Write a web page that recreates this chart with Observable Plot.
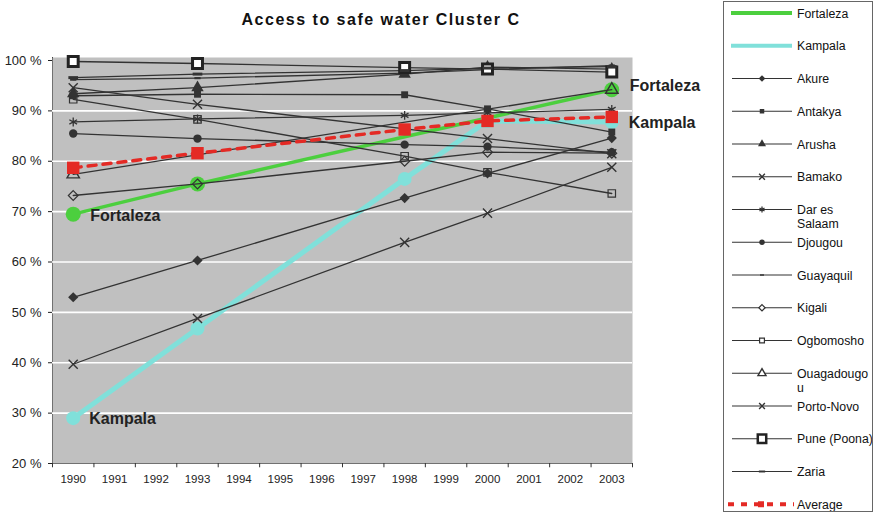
<!DOCTYPE html>
<html>
<head>
<meta charset="utf-8">
<script src="https://cdn.jsdelivr.net/npm/d3@7"></script>
<script src="https://cdn.jsdelivr.net/npm/@observablehq/plot@0.6"></script>
<style>
  body { margin: 0; background: #fff; font-family: "Liberation Sans", Arial, sans-serif; }
  #page { position: relative; width: 874px; height: 514px; overflow: hidden; }
  #title { position: absolute; left: 0; top: 0; width: 762px; height: 40px; line-height: 40px;
           text-align: center; font-weight: bold; font-size: 16px; color: #111; letter-spacing: 1.5px; }
  #chart { position: absolute; left: 0; top: 40px; }
  #chart svg g[aria-label^="y-axis"] text { font-size: 13px !important; }
  #chart svg g[aria-label^="x-axis"] text { font-size: 11.5px !important; }
  #legend { position: absolute; left: 723px; top: 1px; width: 150px; height: 511px;
            border: 1px solid #666; box-sizing: border-box; }
</style>
</head>
<body>
<div id="page">
  <div id="title">Access to safe water Cluster C</div>
  <div id="chart"></div>
  <div id="legend"></div>
</div>
<script>
// Survey years and share of population with access to safe water (%)
const years = [1990, 1993, 1998, 2000, 2003];

const fortaleza   = [69.5, 75.5, null, null, 94.2];
const kampala     = [29.0, 46.8, 76.5, 88.0, 87.8];
const akure       = [53.0, 60.3, 72.7, 77.6, 84.6];
const antakya     = [93.0, 93.3, 93.2, 90.4, 85.8];
const arusha      = [93.4, 94.6, 97.3, 98.7, 98.3];
const bamako      = [94.6, 91.3, null, 84.5, 81.5];
const darEsSalaam = [87.8, 88.4, 89.1, 89.6, 90.3];
const djougou     = [85.5, 84.5, 83.3, 82.9, 81.8];
const guayaquil   = [96.2, 96.5, 97.5, 98.2, 99.0];
const kigali      = [73.2, 75.5, 80.0, 81.8, 81.6];
const ogbomosho   = [92.3, 88.3, 81.0, 77.8, 73.6];
const ouagadougou = [77.4, null, null, null, 94.2];
const portoNovo   = [39.7, 48.8, 63.9, 69.7, 78.8];
const pune        = [99.8, 99.4, 98.6, 98.3, 97.7];
const zaria       = [96.6, 97.3, 98.0, 98.5, 98.8];
const average     = [78.7, 81.6, 86.3, 88.0, 88.8];

// Axis ticks
const yTicks = [20, 30, 40, 50, 60, 70, 80, 90, 100];
const xTicks = d3.range(1990, 2004);

const cityNames = ["Fortaleza", "Kampala", "Akure", "Antakya", "Arusha", "Bamako", "Dar es Salaam",
  "Djougou", "Guayaquil", "Kigali", "Ogbomosho", "Ouagadougou", "Porto-Novo", "Pune (Poona)", "Zaria"];
const cityValues = [fortaleza, kampala, akure, antakya, arusha, bamako, darEsSalaam,
  djougou, guayaquil, kigali, ogbomosho, ouagadougou, portoNovo, pune, zaria];

// Long table: one row per city and year (missing years are skipped so lines join)
const rows = cityNames.flatMap((city, k) =>
  years.map((year, i) => ({city, year, value: cityValues[k][i]})).filter(d => d.value != null));
const avgRows = years.map((year, i) => ({city: "Average", year, value: average[i]}));

// Custom dash marker (Excel-style short bar)
const dash = (w, h) => ({
  draw(ctx, size) {
    const s = Math.sqrt(size);
    ctx.rect(-s * w / 2, -s * h / 2, s * w, s * h);
  }
});

const INK = "#333";
const GREEN = "#4ccf3e";
const CYAN = "#80e0da";
const RED = "#e42a25";

// Marker style for each grey series
const markerStyle = {
  "Akure":         {symbol: "diamond2", r: 4.6, fill: INK, stroke: "none"},
  "Antakya":       {symbol: "square", r: 3.9, fill: INK, stroke: "none"},
  "Arusha":        {symbol: "triangle", r: 4.6, fill: INK, stroke: "none"},
  "Bamako":        {symbol: "times", r: 4.2, fill: "none", stroke: INK, strokeWidth: 1.4},
  "Dar es Salaam": {symbol: "asterisk", r: 4.2, fill: "none", stroke: INK, strokeWidth: 1.3},
  "Djougou":       {symbol: "circle", r: 4.2, fill: INK, stroke: "none"},
  "Guayaquil":     {symbol: dash(1.0, 0.35), r: 3.5, fill: INK, stroke: "none"},
  "Kigali":        {symbol: "diamond2", r: 4.4, fill: "none", stroke: INK, strokeWidth: 1.2},
  "Ogbomosho":     {symbol: "square", r: 4.2, fill: "none", stroke: INK, strokeWidth: 1.2},
  "Ouagadougou":   {symbol: "triangle", r: 4.6, fill: "none", stroke: INK, strokeWidth: 1.4},
  "Porto-Novo":    {symbol: "times", r: 4.2, fill: "none", stroke: INK, strokeWidth: 1.4},
  "Pune (Poona)":  {symbol: "square", r: 5.6, fill: "#fff", stroke: "#222", strokeWidth: 3},
  "Zaria":         {symbol: dash(1.3, 0.4), r: 4.2, fill: INK, stroke: "none"}
};
const greyCities = Object.keys(markerStyle);

const greyLines = greyCities.map(city =>
  Plot.line(rows.filter(d => d.city === city), {x: "year", y: "value", stroke: INK, strokeWidth: 1.3}));
const greyDots = greyCities.map(city =>
  Plot.dot(rows.filter(d => d.city === city), {x: "year", y: "value", ...markerStyle[city]}));

const fortRows = rows.filter(d => d.city === "Fortaleza");
const kampRows = rows.filter(d => d.city === "Kampala");

// City names written next to the first and last points of the highlighted series
const directLabel = (year, value, text, dx, dy) =>
  Plot.text([{year, value, text}], {x: "year", y: "value", text: "text", dx, dy,
    textAnchor: "start", fontWeight: "bold", fontSize: 16, fill: "#222"});

const chart = Plot.plot({
  width: 723,
  height: 474,
  marginLeft: 52,
  marginRight: 91,
  marginTop: 17,
  marginBottom: 51,
  style: {fontFamily: "'Liberation Sans', Arial, sans-serif", fontSize: "12px", color: "#222", background: "transparent", overflow: "visible"},
  x: {domain: [1989.5, 2003.5], ticks: xTicks, tickFormat: d => String(d), tickSize: 0, tickPadding: 11, label: null, line: true},
  y: {domain: [20, 100], range: [423, 20], ticks: yTicks, tickFormat: d => d + " %", tickSize: 4, tickPadding: 7, label: null, line: true},
  marks: [
    Plot.frame({fill: "#c0c0c0", stroke: null}),
    Plot.ruleY(yTicks.slice(1, -1), {stroke: "#fff", strokeWidth: 1.6}),
    // category boundary ticks on the x axis
    Plot.ruleX(d3.range(1989.5, 2004, 1), {y1: 20, y2: 19.15, stroke: "#333"}),
    Plot.line(fortRows, {x: "year", y: "value", stroke: GREEN, strokeWidth: 3.5}),
    Plot.dot(fortRows, {x: "year", y: "value", r: 7.5, fill: GREEN, stroke: "none"}),
    Plot.line(kampRows, {x: "year", y: "value", stroke: CYAN, strokeWidth: 5}),
    Plot.dot(kampRows, {x: "year", y: "value", r: 7, fill: CYAN, stroke: "none"}),
    ...greyLines,
    ...greyDots,
    Plot.line(avgRows, {x: "year", y: "value", stroke: RED, strokeWidth: 3.5, strokeDasharray: "8,7"}),
    Plot.dot(avgRows, {x: "year", y: "value", symbol: "square", r: 7, fill: RED, stroke: "none"}),
    directLabel(years[0], fortaleza[0], "Fortaleza", 17, 2),
    directLabel(years[0], kampala[0], "Kampala", 16, 1),
    directLabel(years[4], fortaleza[4], "Fortaleza", 18, -4),
    directLabel(years[4], kampala[4], "Kampala", 17, 1)
  ]
});
document.getElementById("chart").appendChild(chart);

// Legend column
const legendEntries = [
  {name: ["Fortaleza"], kind: "fort"},
  {name: ["Kampala"], kind: "kamp"},
  {name: ["Akure"], city: "Akure"},
  {name: ["Antakya"], city: "Antakya"},
  {name: ["Arusha"], city: "Arusha"},
  {name: ["Bamako"], city: "Bamako"},
  {name: ["Dar es", "Salaam"], city: "Dar es Salaam"},
  {name: ["Djougou"], city: "Djougou"},
  {name: ["Guayaquil"], city: "Guayaquil"},
  {name: ["Kigali"], city: "Kigali"},
  {name: ["Ogbomosho"], city: "Ogbomosho"},
  {name: ["Ouagadougo", "u"], city: "Ouagadougou"},
  {name: ["Porto-Novo"], city: "Porto-Novo"},
  {name: ["Pune (Poona)"], city: "Pune (Poona)"},
  {name: ["Zaria"], city: "Zaria"},
  {name: ["Average"], kind: "avg"}
];
const symbolTypes = {
  diamond2: d3.symbolDiamond2, square: d3.symbolSquare, triangle: d3.symbolTriangle,
  times: d3.symbolTimes, asterisk: d3.symbolAsterisk, circle: d3.symbolCircle
};
const lg = d3.select("#legend").append("svg").attr("width", 148).attr("height", 509)
  .style("font-family", "'Liberation Sans', Arial, sans-serif").style("font-size", "12.3px");
legendEntries.forEach((e, i) => {
  const cy = 11 + i * 32.75;
  const g = lg.append("g").attr("transform", `translate(0,${cy})`);
  if (e.kind === "fort" || e.kind === "kamp") {
    g.append("line").attr("x1", 7).attr("x2", 68).attr("stroke", e.kind === "fort" ? GREEN : CYAN).attr("stroke-width", 4);
  } else if (e.kind === "avg") {
    g.append("line").attr("x1", 4).attr("x2", 70).attr("stroke", RED).attr("stroke-width", 4).attr("stroke-dasharray", "6,7");
    g.append("rect").attr("x", 34).attr("y", -3).attr("width", 6).attr("height", 6).attr("fill", RED);
  } else {
    const s = markerStyle[e.city];
    g.append("line").attr("x1", 8).attr("x2", 68).attr("stroke", INK).attr("stroke-width", 1.1);
    const type = typeof s.symbol === "string" ? symbolTypes[s.symbol] : s.symbol;
    const scale = e.city === "Pune (Poona)" ? 0.85 : 0.65;
    const area = Math.PI * (s.r * scale) ** 2;
    g.append("path").attr("transform", "translate(38,0)")
      .attr("d", d3.symbol(type, area)())
      .attr("fill", s.fill === "none" ? "#fff" : s.fill)
      .attr("stroke", s.stroke === "none" ? "none" : s.stroke)
      .attr("stroke-width", s.strokeWidth ? Math.min(s.strokeWidth, 2.5) : null);
  }
  e.name.forEach((line, j) => {
    g.append("text").attr("x", 73).attr("y", 4.5 + j * 14).attr("fill", "#111").text(line);
  });
});
</script>
</body>
</html>
